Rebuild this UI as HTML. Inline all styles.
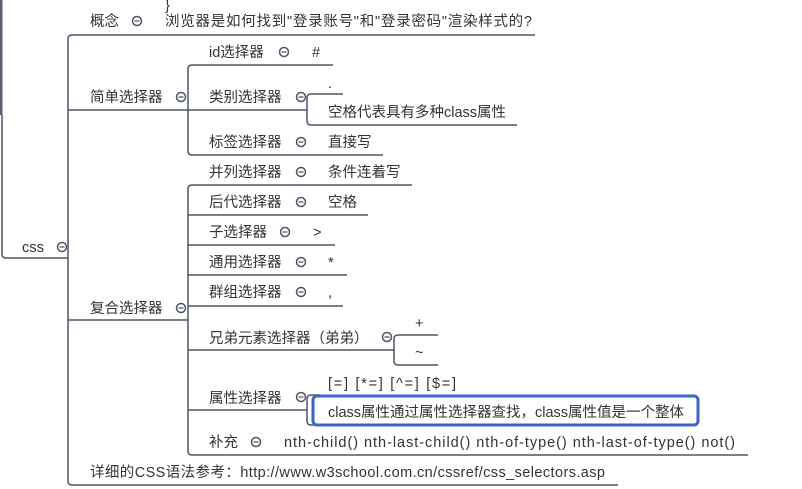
<!DOCTYPE html>
<html><head><meta charset="utf-8"><style>
html,body{margin:0;padding:0;background:#fff;width:802px;height:489px;overflow:hidden}
svg text{font-family:"Liberation Sans","Noto Sans CJK SC",sans-serif;font-size:14.5px;fill:#333}
</style></head><body>
<svg width="802" height="489" viewBox="0 0 802 489" xmlns="http://www.w3.org/2000/svg">
<g fill="none" stroke="#4e5568" stroke-width="1.5">
<rect x="0" y="0" width="2.5" height="115" fill="#5a6070" stroke="none"/>
<path d="M2 115 V254 Q2 258 6 258 H68"/>
<path d="M535 35 H72 Q68 35 68 39 V481 Q68 485 72 485 H618"/>
<path d="M68 110 H307"/>
<path d="M68 320 H188"/>
<path d="M333 65 H192 Q188 65 188 69 V151 Q188 155 192 155 H383"/>
<path d="M343 94 H311 Q307 94 307 98 V121 Q307 125 311 125 H517"/>
<path d="M412 185 H192 Q188 185 188 189 V451 Q188 455 192 455 H748"/>
<path d="M188 215 H368"/>
<path d="M188 245 H335"/>
<path d="M188 275 H347"/>
<path d="M188 306 H343"/>
<path d="M188 350 H394"/>
<path d="M438 335 H398 Q394 335 394 339 V361 Q394 365 398 365 H438"/>
<path d="M188 410 H307"/>
<path d="M320 395 H311 Q307 395 307 399 V421 Q307 425 311 425 H320"/>
<circle cx="62" cy="247" r="4.5"/><circle cx="137" cy="21" r="4.5"/>
<circle cx="181" cy="97" r="4.5"/><circle cx="181" cy="308" r="4.5"/>
<circle cx="284" cy="52" r="4.5"/><circle cx="301" cy="97" r="4.5"/>
<circle cx="301" cy="142" r="4.5"/><circle cx="301" cy="172" r="4.5"/>
<circle cx="301" cy="202" r="4.5"/><circle cx="285" cy="232" r="4.5"/>
<circle cx="301" cy="262" r="4.5"/><circle cx="301" cy="292" r="4.5"/>
<circle cx="387" cy="337" r="4.5"/><circle cx="301" cy="397" r="4.5"/>
<circle cx="256" cy="442" r="4.5"/>
</g>
<g stroke="#4e5568" stroke-width="1.2">
<path d="M59.5 247h5M134.5 21h5M178.5 97h5M178.5 308h5M281.5 52h5M298.5 97h5M298.5 142h5M298.5 172h5M298.5 202h5M282.5 232h5M298.5 262h5M298.5 292h5M384.5 337h5M298.5 397h5M253.5 442h5"/>
</g>
<rect x="313" y="396" width="385" height="29" rx="4" fill="#fff" stroke="#3d66c4" stroke-width="3"/>
<g>
<text x="165" y="10">}</text>
<text x="22" y="252" textLength="22" lengthAdjust="spacing">css</text>
<text x="90" y="26">概念</text>
<text x="165" y="26" textLength="367" lengthAdjust="spacing">浏览器是如何找到"登录账号"和"登录密码"渲染样式的?</text>
<text x="90" y="102">简单选择器</text>
<text x="90" y="313">复合选择器</text>
<text x="90" y="477" textLength="515" lengthAdjust="spacing">详细的CSS语法参考：http://www.w3school.com.cn/cssref/css_selectors.asp</text>
<text x="209" y="57">id选择器</text><text x="312" y="57">#</text>
<text x="209" y="102">类别选择器</text><text x="328" y="88">.</text>
<text x="328" y="117" textLength="178" lengthAdjust="spacing">空格代表具有多种class属性</text>
<text x="209" y="147">标签选择器</text><text x="328" y="147">直接写</text>
<text x="209" y="177">并列选择器</text><text x="328" y="177">条件连着写</text>
<text x="209" y="207">后代选择器</text><text x="328" y="207">空格</text>
<text x="209" y="237">子选择器</text><text x="313" y="237">&gt;</text>
<text x="209" y="267">通用选择器</text><text x="328" y="267">*</text>
<text x="209" y="297">群组选择器</text><text x="328" y="297">,</text>
<text x="209" y="343">兄弟元素选择器（弟弟）</text>
<text x="415" y="328">+</text><text x="415" y="357">~</text>
<text x="209" y="403">属性选择器</text>
<text x="328" y="388" textLength="128" lengthAdjust="spacing">[=] [*=]  [^=]  [$=]</text>
<text x="328" y="417" textLength="356" lengthAdjust="spacing">class属性通过属性选择器查找，class属性值是一个整体</text>
<text x="209" y="447">补充</text>
<text x="284" y="447" textLength="451" lengthAdjust="spacing">nth-child() nth-last-child()  nth-of-type()  nth-last-of-type()  not()</text>
</g>
</svg>
</body></html>
